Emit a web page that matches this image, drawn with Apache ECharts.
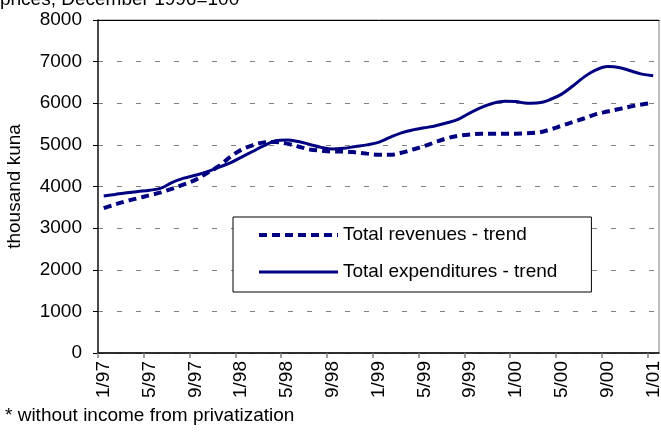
<!DOCTYPE html>
<html>
<head>
<meta charset="utf-8">
<script src="https://cdn.jsdelivr.net/npm/echarts@6/dist/echarts.min.js"></script>
<style>
  html, body { margin: 0; padding: 0; background: #fff; }
  #chart { width: 661px; height: 435px; }
</style>
</head>
<body>
<div id="chart"></div>
<script>
// Monthly observations, January 1997 – January 2001
const months = [
  '1/97','2/97','3/97','4/97','5/97','6/97','7/97','8/97','9/97','10/97','11/97','12/97',
  '1/98','2/98','3/98','4/98','5/98','6/98','7/98','8/98','9/98','10/98','11/98','12/98',
  '1/99','2/99','3/99','4/99','5/99','6/99','7/99','8/99','9/99','10/99','11/99','12/99',
  '1/00','2/00','3/00','4/00','5/00','6/00','7/00','8/00','9/00','10/00','11/00','12/00',
  '1/01'
];

// Trend components, thousand kuna
const revenuesTrend = [
  3480, 3570, 3650, 3720, 3790, 3860, 3950, 4050, 4160, 4320, 4480, 4700,
  4880, 4990, 5060, 5070, 5030, 4960, 4890, 4860, 4840, 4840, 4820, 4790,
  4760, 4760, 4810, 4890, 4970, 5070, 5160, 5220, 5250, 5270, 5270, 5270,
  5270, 5280, 5300, 5370, 5460, 5550, 5640, 5740, 5800, 5860, 5920, 5970,
  6010
];
const expendituresTrend = [
  3770, 3810, 3850, 3880, 3910, 3960, 4100, 4200, 4270, 4350, 4460, 4560,
  4700, 4840, 4980, 5100, 5120, 5080, 5010, 4940, 4900, 4920, 4960, 5000,
  5060, 5180, 5290, 5360, 5410, 5460, 5530, 5620, 5770, 5900, 6000, 6050,
  6040, 6000, 6010, 6090, 6220, 6420, 6640, 6800, 6880, 6860, 6780, 6700,
  6660
];

const seriesNames = ['Total revenues - trend', 'Total expenditures - trend'];
const yMin = 0, yMax = 8000, yStep = 1000;
const labelEvery = 4;
const unitName = 'thousand kuna';
const headerText = 'prices, December 1996=100';
const footnoteText = '* without income from privatization';

const FONT = '"Liberation Sans", Arial, sans-serif';
const NAVY = '#000080';
const revenueLine = { color: NAVY, width: 4, type: [8, 5] };
const expenditureLine = { color: NAVY, width: 3, type: 'solid' };

// tick positions on the month scale (boundaries before every 4th month)
const monthTicks = months.map((m, i) => i).filter(i => i % labelEvery === 0);

const chart = echarts.init(document.getElementById('chart'), null, { renderer: 'canvas' });

chart.setOption({
  animation: false,
  backgroundColor: '#fff',
  textStyle: { fontFamily: FONT, color: '#000' },
  grid: {
    left: 98, right: 2, top: 20, bottom: 82,
    containLabel: false,
    outerBoundsMode: 'none',
    show: true, borderColor: '#808080', borderWidth: 1, backgroundColor: 'transparent'
  },
  xAxis: [
    {
      type: 'category',
      data: months,
      boundaryGap: true,
      position: 'bottom',
      axisLine: { show: true, lineStyle: { color: '#000', width: 1.5 } },
      axisTick: { show: false },
      axisLabel: {
        interval: labelEvery - 1, rotate: 90, margin: 8,
        fontSize: 19, color: '#000', fontFamily: FONT
      },
      splitLine: { show: false }
    },
    {
      type: 'value',
      min: 0, max: months.length,
      position: 'bottom',
      axisLine: { show: false },
      axisTick: { show: true, length: 5, customValues: monthTicks, lineStyle: { color: '#808080', width: 1.5 } },
      axisLabel: { show: false, customValues: monthTicks },
      splitLine: { show: false }
    },
    {
      type: 'category',
      data: months,
      position: 'top',
      axisLine: { show: true, lineStyle: { color: '#000', width: 1 } },
      axisTick: { show: false },
      axisLabel: { show: false },
      splitLine: { show: false }
    }
  ],
  yAxis: {
    type: 'value',
    min: yMin, max: yMax, interval: yStep,
    name: unitName,
    nameLocation: 'middle',
    nameGap: 74,
    nameTextStyle: { fontSize: 19, color: '#000', fontFamily: FONT },
    axisLine: { show: true, lineStyle: { color: '#222', width: 1.5 } },
    axisTick: { show: true, length: 5, lineStyle: { color: '#000' } },
    axisLabel: { fontSize: 19, color: '#000', margin: 16, fontFamily: FONT, formatter: v => String(v) },
    splitLine: { show: true, lineStyle: { color: '#808080', width: 1, type: [5, 14] } }
  },
  legend: {
    orient: 'vertical',
    left: 233, top: 217,
    itemWidth: 79, itemHeight: 20, itemGap: 17,
    padding: [8, 34, 10, 24],
    backgroundColor: '#fff',
    borderColor: '#000', borderWidth: 1,
    itemStyle: { opacity: 0 },
    textStyle: { fontSize: 19, color: '#000', fontFamily: FONT, lineHeight: 20 },
    data: [
      { name: seriesNames[0], lineStyle: revenueLine },
      { name: seriesNames[1], lineStyle: expenditureLine }
    ]
  },
  series: [
    {
      name: seriesNames[0],
      type: 'line',
      data: revenuesTrend,
      symbol: 'none',
      smooth: 0.35,
      z: 3,
      itemStyle: { color: NAVY },
      lineStyle: revenueLine
    },
    {
      name: seriesNames[1],
      type: 'line',
      data: expendituresTrend,
      symbol: 'none',
      smooth: 0.35,
      z: 3,
      itemStyle: { color: NAVY },
      lineStyle: expenditureLine
    }
  ],
  graphic: [
    {
      type: 'text', left: 0, top: -10, silent: true,
      style: { text: headerText, font: '19px ' + FONT, fill: '#000' }
    },
    {
      type: 'text', left: 5, top: 406, silent: true,
      style: { text: footnoteText, font: '19px ' + FONT, fill: '#000' }
    }
  ]
});
</script>
</body>
</html>
